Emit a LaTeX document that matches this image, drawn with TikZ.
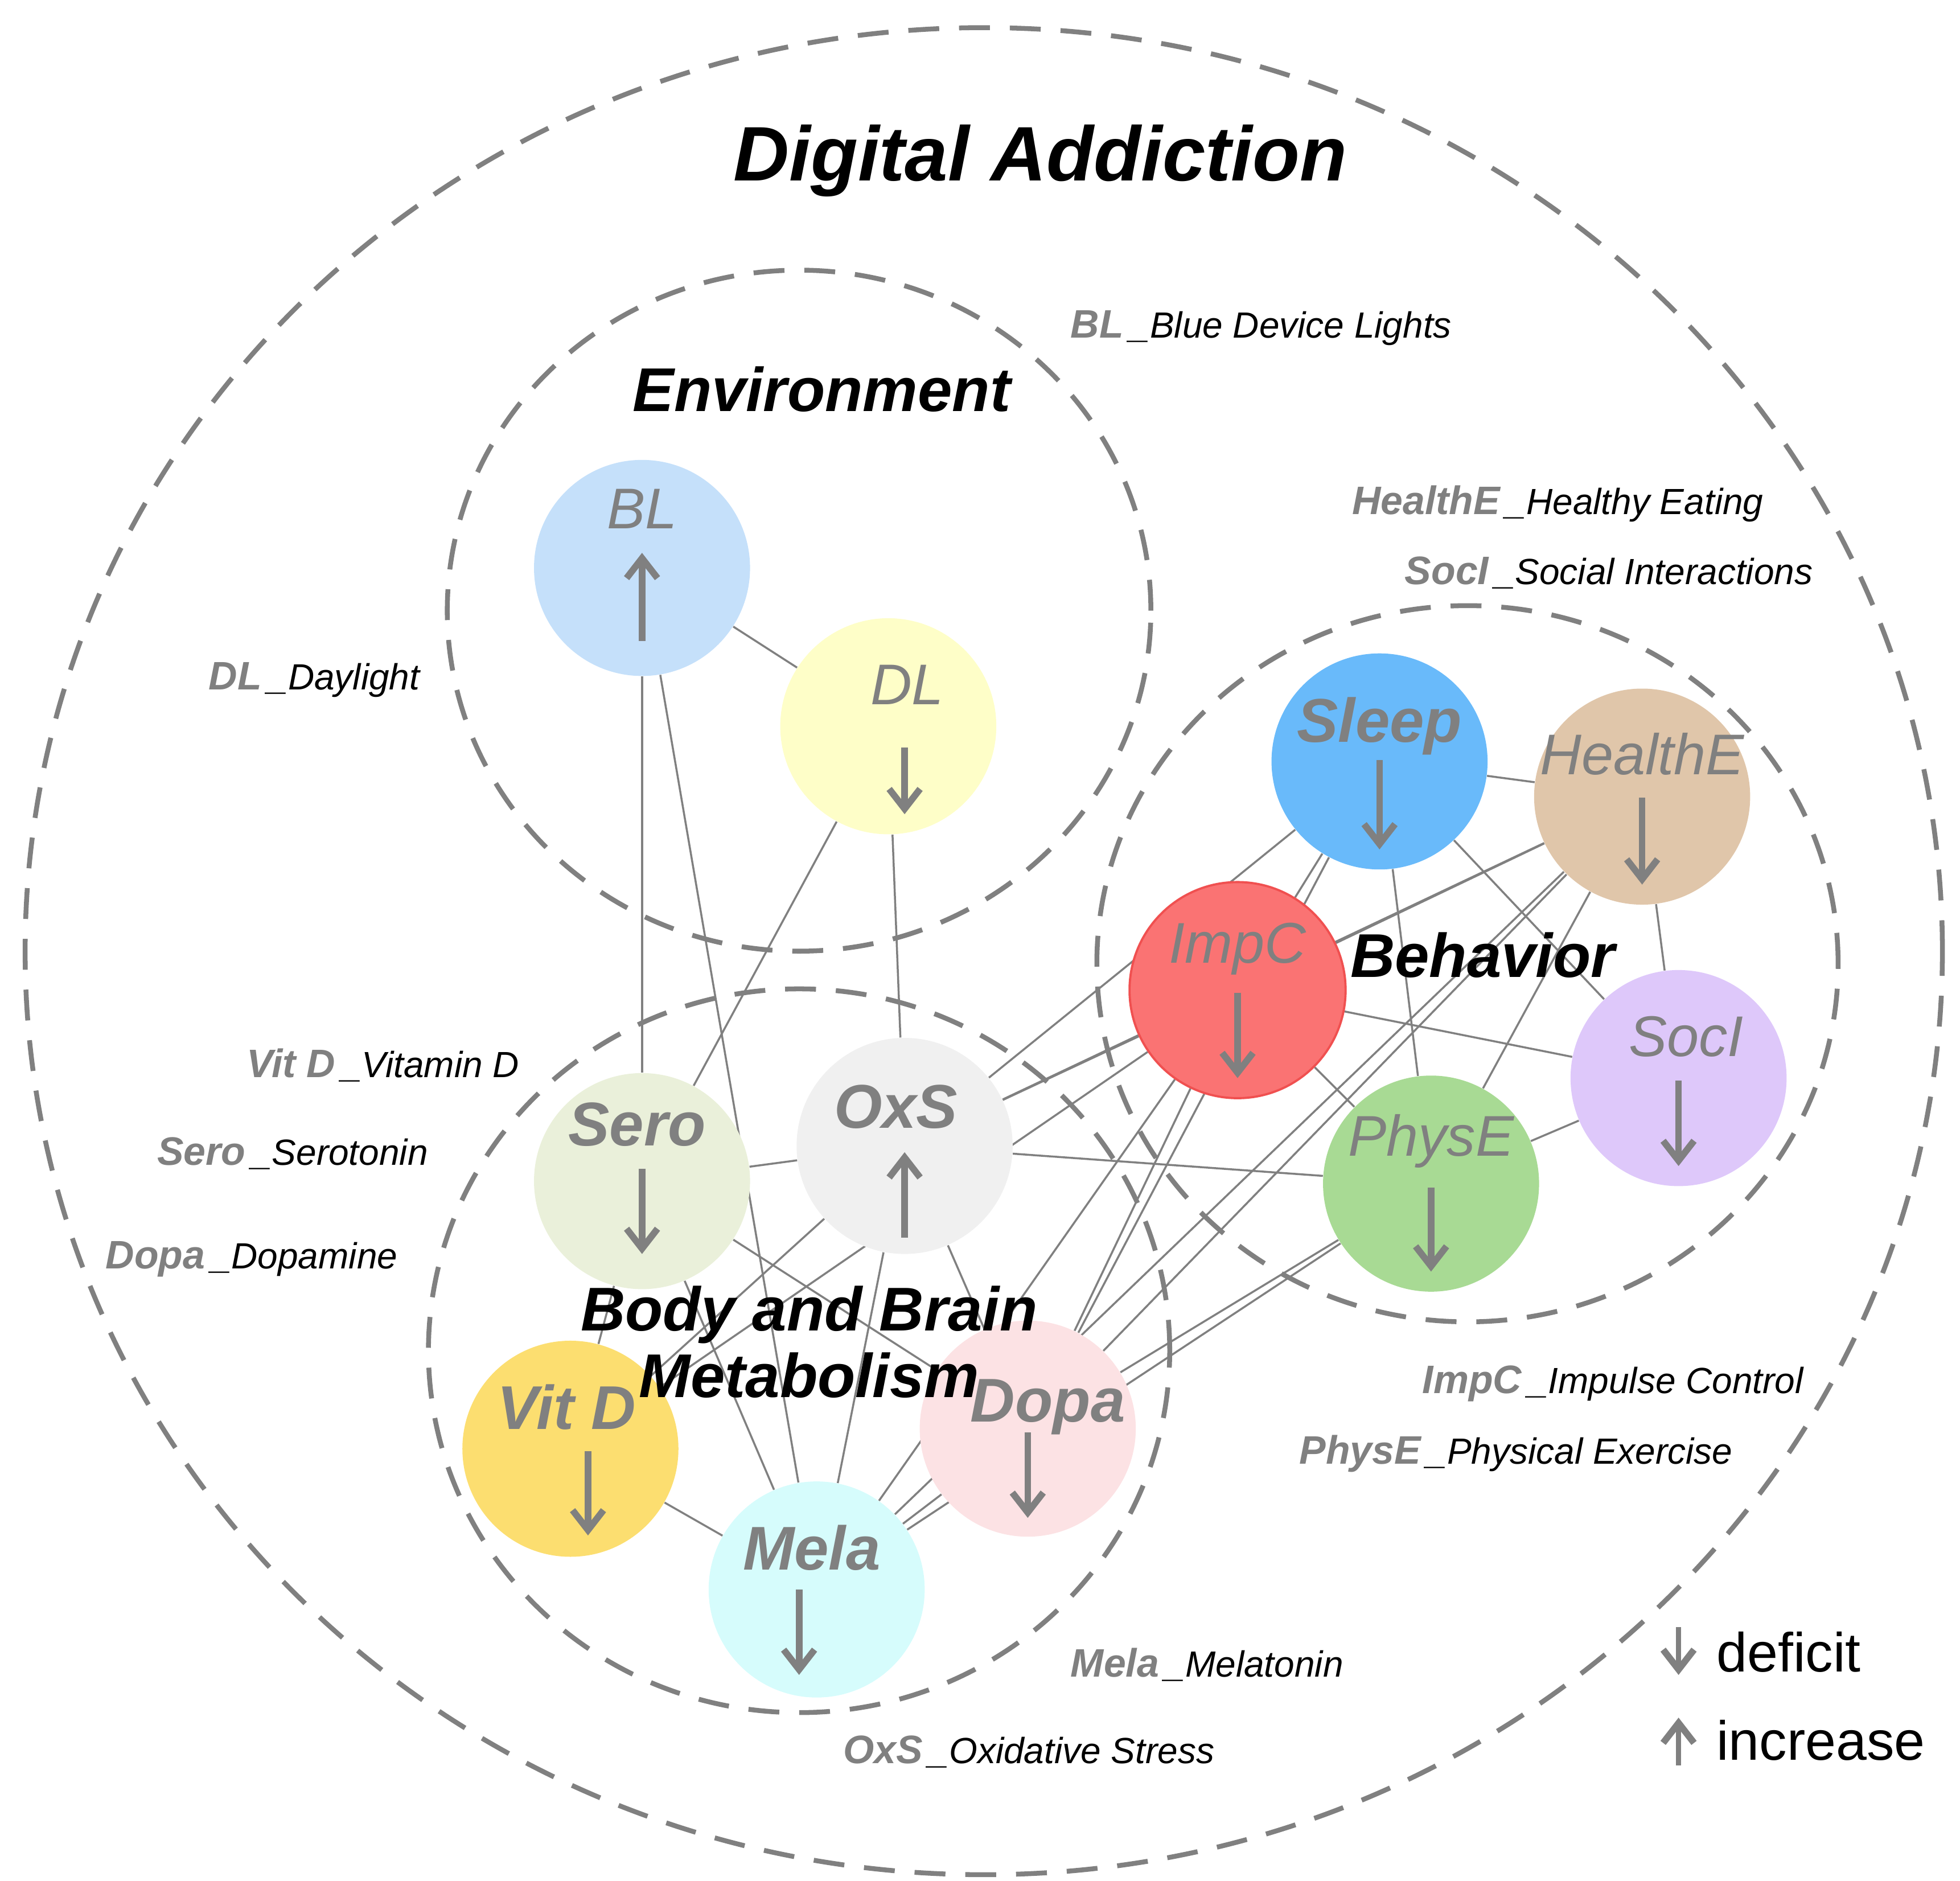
\documentclass[tikz,border=0pt]{standalone}
\usepackage{fontspec}
\setmainfont{Liberation Sans}
\usetikzlibrary{backgrounds,arrows.meta}
\definecolor{gr}{RGB}{128,128,128}
\definecolor{cBL}{RGB}{197,224,250}
\definecolor{cDL}{RGB}{254,254,200}
\definecolor{cSleep}{RGB}{105,186,250}
\definecolor{cHealth}{RGB}{224,198,170}
\definecolor{cImpC}{RGB}{250,115,115}
\definecolor{cSocI}{RGB}{222,200,250}
\definecolor{cPhysE}{RGB}{168,218,148}
\definecolor{cSero}{RGB}{234,240,218}
\definecolor{cOxS}{RGB}{240,240,240}
\definecolor{cVitD}{RGB}{252,222,112}
\definecolor{cDopa}{RGB}{252,226,228}
\definecolor{cMela}{RGB}{214,252,252}
\begin{document}
\begin{tikzpicture}[x=0.02cm,y=-0.02cm,
  bub/.style={circle,draw=none,minimum size=3.44cm,inner sep=0pt},
  grp/.style={draw=gr,line width=2.2pt,dash pattern=on 14pt off 9pt},
  edge/.style={draw=gr,line width=0.9pt},
  nm/.style={text=gr,font=\fontsize{26}{26}\selectfont\itshape},
  nmb/.style={text=gr,font=\fontsize{28}{28}\selectfont\bfseries\itshape},
  arr/.style={draw=gr,line width=3pt,-{Straight Barb[length=9pt,width=14pt,line width=3pt]}},
  ttl/.style={font=\fontsize{28}{30}\selectfont\bfseries\itshape},
  lg/.style={anchor=west,font=\fontsize{16.5}{17}\selectfont\itshape},
]
\useasboundingbox (0,0) rectangle (1560,1497);
% group circles
\draw[grp] (783,757) ellipse [x radius=763, y radius=-735];
\draw[grp] (636,486) ellipse [x radius=280, y radius=-271];
\draw[grp] (1168,767) ellipse [x radius=295, y radius=-285];
\draw[grp] (636,1075) ellipse [x radius=295, y radius=-288];
% bubbles
\node[bub,fill=cBL] (BL) at (511,452) {};
\node[bub,fill=cDL] (DL) at (707,578) {};
\node[bub,fill=cSleep] (Sleep) at (1098,606) {};
\node[bub,fill=cHealth] (HealthE) at (1307,634) {};
\node[bub,fill=cImpC,draw={rgb,255:red,240;green,80;blue,80},line width=1pt] (ImpC) at (985,788) {};
\node[bub,fill=cSocI] (SocI) at (1336,858) {};
\node[bub,fill=cPhysE] (PhysE) at (1139,942) {};
\node[bub,fill=cSero] (Sero) at (511,940) {};
\node[bub,fill=cOxS] (OxS) at (720,912) {};
\node[bub,fill=cVitD] (VitD) at (454,1153) {};
\node[bub,fill=cDopa] (Dopa) at (818,1137) {};
\node[bub,fill=cMela] (Mela) at (650,1265) {};
\begin{scope}[on background layer]
\foreach \a/\b in {BL/DL,BL/Sero,BL/Mela,DL/OxS,DL/Sero,Sero/OxS,Sero/VitD,Sero/Mela,Sero/Dopa,
 OxS/Mela,OxS/VitD,OxS/Dopa,OxS/ImpC,OxS/HealthE,OxS/PhysE,OxS/Sleep,VitD/Mela,VitD/ImpC,
 Dopa/Mela,Dopa/ImpC,Dopa/HealthE,Dopa/Sleep,Dopa/PhysE,Mela/ImpC,Mela/PhysE,
 Sleep/ImpC,Sleep/HealthE,Sleep/PhysE,Sleep/SocI,HealthE/SocI,HealthE/ImpC,HealthE/PhysE,
 ImpC/PhysE,ImpC/SocI,SocI/PhysE,Mela/HealthE}
  \draw[edge] (\a) -- (\b);
\end{scope}
% names and arrows
\node[nm] at (511,405) {BL}; \draw[arr] (511,510) -- (511,440);
\node[nm] at (722,545) {DL}; \draw[arr] (720,595) -- (720,648);
\node[nmb] at (1098,578) {Sleep}; \draw[arr] (1098,605) -- (1098,676);
\node[nm] at (1307,600) {HealthE}; \draw[arr] (1307,635) -- (1307,704);
\node[nm] at (985,755) {ImpC}; \draw[arr] (985,790) -- (985,858);
\node[nm] at (1342,825) {SocI}; \draw[arr] (1336,860) -- (1336,928);
\node[nm] at (1139,908) {PhysE}; \draw[arr] (1139,945) -- (1139,1012);
\node[nmb] at (507,895) {Sero}; \draw[arr] (511,930) -- (511,998);
\node[nmb] at (713,881) {OxS}; \draw[arr] (720,985) -- (720,917);
\node[nmb] at (451,1120) {Vit D}; \draw[arr] (468,1155) -- (468,1222);
\node[nmb] at (834,1120) {Dopa}; \draw[arr] (818,1140) -- (818,1208);
\node[nmb] at (646,1232) {Mela}; \draw[arr] (636,1265) -- (636,1333);
% titles
\node[font=\fontsize{35}{36}\selectfont\bfseries\itshape] at (828,128) {Digital Addiction};
\node[ttl] at (654,310) {Environment};
\node[ttl] at (1180,760) {Behavior};
\node[ttl,align=center] at (644,1068) {Body and Brain\\Metabolism};
% legend texts
\newcommand\lgd[4]{\node[lg] at (#1,#2) {\textcolor{gr}{\fontsize{18}{18}\selectfont\bfseries #3}\,\_#4};}
\lgd{846}{261}{BL}{Blue Device Lights}
\lgd{1070}{401}{HealthE}{Healthy Eating}
\lgd{1112}{456}{SocI}{Social Interactions}
\lgd{160}{541}{DL}{Daylight}
\lgd{190}{848}{Vit D}{Vitamin D}
\lgd{119}{918}{Sero}{Serotonin}
\lgd{78}{1002}{Dopa}{Dopamine}
\lgd{1126}{1101}{ImpC}{Impulse Control}
\lgd{1028}{1157}{PhysE}{Physical Exercise}
\lgd{846}{1325}{Mela}{Melatonin}
\lgd{665}{1394}{OxS}{Oxidative Stress}
% key
\draw[arr,line width=2.5pt] (1336,1295) -- (1336,1333);
\node[anchor=west,font=\fontsize{25}{25}\selectfont] at (1360,1315) {deficit};
\draw[arr,line width=2.5pt] (1336,1405) -- (1336,1367);
\node[anchor=west,font=\fontsize{25}{25}\selectfont] at (1360,1385) {increase};
\end{tikzpicture}
\end{document}
